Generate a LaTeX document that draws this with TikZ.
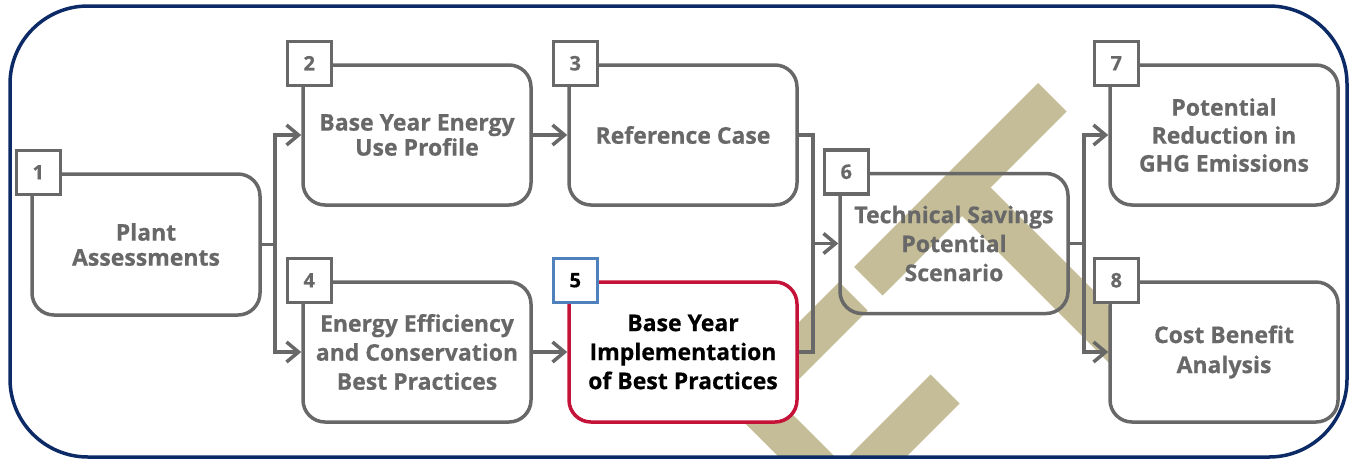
\documentclass[tikz,border=0pt]{standalone}
\usepackage{fontspec}
\setmainfont{Open Sans}[BoldFeatures={FakeBold=0.6}]
\usetikzlibrary{arrows.meta}
\definecolor{ink}{RGB}{104,104,104}
\definecolor{navy}{RGB}{12,42,102}
\definecolor{khaki}{RGB}{197,189,152}
\definecolor{hired}{RGB}{196,18,56}
\definecolor{hiblue}{RGB}{79,129,189}
\begin{document}
\begin{tikzpicture}[x=1pt,y=-1pt,
  stage/.style={draw=ink, line width=3.5pt, rounded corners=22pt, fill=white,
    minimum width=228pt, minimum height=140pt, inner sep=0pt, align=center,
    text=ink, font=\bfseries\fontsize{23}{29}\selectfont},
  tight/.style={font=\bfseries\fontsize{23}{25}\selectfont},
  tag/.style={draw=ink, line width=3.5pt, fill=white, minimum size=44pt,
    inner sep=0pt, text=ink, font=\bfseries\fontsize{20}{20}\selectfont},
  link/.style={draw=ink, line width=3.5pt},
  arr/.style={link, -{Straight Barb[length=12pt,width=20pt]}},
  band/.style={fill=khaki}]
\useasboundingbox (0,0) rectangle (1351,459);

% watermark bands, kept inside the frame
\begin{scope}
  \clip[rounded corners=78pt] (10,6) rectangle (1347,457);
  \fill[band] (854,267) -- (882.5,295.5) -- (1066.5,111.5) -- (1038,83) -- cycle;
  \fill[band] (961.5,215.5) -- (990,187) -- (1151.5,348.5) -- (1123,377) -- cycle;
  \fill[band] (721.5,399.5) -- (750,428) -- (867.5,310.5) -- (839,282) -- cycle;
  \fill[band] (721.5,399.5) -- (749.5,371.5) -- (889,511) -- (861,539) -- cycle;
  \fill[band] (930.5,374.5) -- (959.5,403.5) -- (806.5,556.5) -- (777.5,527.5) -- cycle;
\end{scope}

% process steps
\node[stage, tight, minimum height=141pt] (b1) at (146,244.5) {Plant\\Assessments};
\node[stage, tight] (b2) at (417,135) {Base Year Energy\\Use Profile};
\node[stage] (b3) at (683,135) {Reference Case};
\node[stage] (b4) at (417,352) {Energy Efficiency\\and Conservation\\Best Practices};
\node[stage, draw=hired, text=black] (b5) at (683,352) {Base Year\\Implementation\\of Best Practices};
\node[stage, fill=none] (b6) at (954,243.5) {Technical Savings\\Potential\\Scenario};
\node[stage, font=\bfseries\fontsize{23}{28}\selectfont] (b7) at (1224,135) {Potential\\Reduction in\\GHG Emissions};
\node[stage, font=\bfseries\fontsize{23}{30}\selectfont] (b8) at (1224,352) {Cost Benefit\\Analysis};

% step numbers
\node[tag] (n1) at ([xshift=8pt]b1.north west) {1};
\node[tag] (n2) at ([xshift=8pt]b2.north west) {2};
\node[tag] (n3) at ([xshift=8pt]b3.north west) {3};
\node[tag] (n4) at ([xshift=8pt]b4.north west) {4};
\node[tag, draw=hiblue, text=black] (n5) at ([xshift=8pt]b5.north west) {5};
\node[tag] (n6) at ([xshift=8pt]b6.north west) {6};
\node[tag] (n7) at ([xshift=8pt]b7.north west) {7};
\node[tag] (n8) at ([xshift=8pt]b8.north west) {8};

% connectors
\coordinate (j1) at ([xshift=13pt]b1.east);
\draw[link] (b1.east) -- (j1);
\draw[arr] (j1) |- (b2.west);
\draw[arr] (j1) |- (b4.west);
\draw[arr] (b2) -- (b3);
\draw[arr] (b4) -- (b5);
\path ([xshift=14pt]b3.east) coordinate (t3);
\coordinate (j2) at (t3 |- b6.west);
\draw[arr] (b3.east) -| (j2) -- (b6.west);
\draw[link] (b5.east) -| (j2);
\coordinate (j3) at ([xshift=14pt]b6.east);
\draw[link] (b6.east) -- (j3);
\draw[arr] (j3) |- (b7.west);
\draw[arr] (j3) |- (b8.west);

% outer frame
\draw[navy, line width=3.5pt, rounded corners=78pt] (10,6) rectangle (1347,457);
\end{tikzpicture}
\end{document}
